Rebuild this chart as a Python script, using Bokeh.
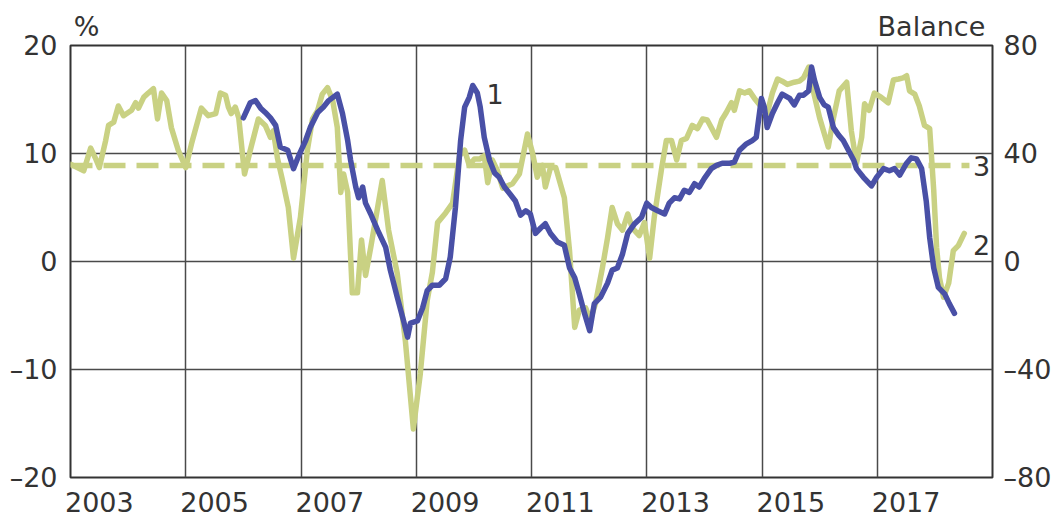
from bokeh.plotting import figure
from bokeh.models import Range1d, LinearAxis, FixedTicker, CustomJSTickFormatter
from bokeh.embed import file_html
from bokeh.resources import INLINE
from bokeh.core.properties import value

# ---------------- data ----------------
# Series 2: balance (right axis)
bal_years = [2003.00, 2003.23, 2003.35, 2003.43, 2003.50, 2003.61, 2003.66, 2003.75, 2003.83, 2003.92,
             2004.06, 2004.13, 2004.18, 2004.27, 2004.35, 2004.44, 2004.51, 2004.58, 2004.67, 2004.75,
             2004.87, 2005.00, 2005.10, 2005.27, 2005.39, 2005.52, 2005.60, 2005.69, 2005.74, 2005.79,
             2005.86, 2005.92, 2006.02, 2006.12, 2006.26, 2006.38, 2006.47, 2006.52, 2006.59, 2006.68,
             2006.78, 2006.87, 2006.99, 2007.11, 2007.20, 2007.29, 2007.37, 2007.46, 2007.55, 2007.63,
             2007.69, 2007.74, 2007.81, 2007.89, 2007.98, 2008.05, 2008.12, 2008.21, 2008.41, 2008.52,
             2008.67, 2008.81, 2008.95, 2009.07, 2009.19, 2009.28, 2009.37, 2009.51, 2009.63, 2009.75,
             2009.84, 2009.92, 2010.01, 2010.10, 2010.18, 2010.24, 2010.32, 2010.41, 2010.50, 2010.67,
             2010.79, 2010.93, 2011.02, 2011.10, 2011.19, 2011.24, 2011.33, 2011.42, 2011.57, 2011.66,
             2011.75, 2011.83, 2011.94, 2012.02, 2012.11, 2012.23, 2012.32, 2012.40, 2012.49, 2012.58,
             2012.67, 2012.75, 2012.87, 2012.96, 2013.05, 2013.13, 2013.26, 2013.34, 2013.43, 2013.52,
             2013.60, 2013.69, 2013.79, 2013.88, 2013.97, 2014.05, 2014.21, 2014.30, 2014.38, 2014.47,
             2014.52, 2014.61, 2014.70, 2014.78, 2014.87, 2014.99, 2015.08, 2015.18, 2015.27, 2015.35,
             2015.44, 2015.56, 2015.65, 2015.72, 2015.81, 2015.89, 2016.00, 2016.15, 2016.24, 2016.34,
             2016.47, 2016.55, 2016.64, 2016.73, 2016.78, 2016.86, 2016.95, 2017.07, 2017.19, 2017.28,
             2017.37, 2017.45, 2017.51, 2017.56, 2017.65, 2017.73, 2017.82, 2017.91, 2017.98, 2018.03,
             2018.08, 2018.15, 2018.24, 2018.32, 2018.41, 2018.51]
bal_values = [36, 33.6, 42, 38.4, 34.8, 44.8, 50.4, 51.6, 57.6, 54,
              56, 58.8, 56.8, 60.8, 62.4, 64, 52.8, 62.4, 59.6, 49.6,
              41.2, 34.8, 43.6, 56.8, 54, 54.8, 62.4, 61.6, 57.2, 54.8,
              57.2, 53.2, 32.4, 41.2, 52.8, 50.4, 46, 48.4, 38.4, 30,
              20, 1.2, 16.4, 41.2, 52.8, 56, 62, 64.4, 59.6, 49.6,
              25.6, 32.4, 25.6, -11.6, -11.6, 8, -5.2, 5.2, 30, 11.6,
              -4.4, -29.2, -62, -41.6, -14.4, -4, 14.4, 18, 21.6, 39.2,
              41.2, 35.6, 38, 38, 39.2, 29.2, 37.6, 33.6, 27.2, 28.8,
              32.4, 47.2, 40, 31.2, 35.6, 27.6, 34.8, 34.8, 23.6, 4,
              -24.4, -18, -17.2, -21.6, -15.6, -2.4, 8.8, 20, 14, 11.6,
              17.6, 12.4, 9.6, 14.4, 1.2, 16.4, 34.8, 44.8, 44.8, 37.6,
              44.8, 45.6, 50.4, 49.2, 52.8, 52.4, 46, 52.4, 55.2, 58.8,
              56, 63.2, 62.4, 63.2, 60.4, 57.2, 54, 62.4, 67.6, 66.8,
              65.6, 66.4, 66.8, 68, 72, 63.2, 53.2, 42.4, 53.2, 63.2,
              66.4, 48.4, 36.4, 46, 58.4, 56, 62.4, 60.8, 58.8, 67.2,
              67.6, 68, 68.8, 63.2, 62, 57.6, 50.4, 49.2, 26.4, 5.2,
              -6, -13.2, -8, 4, 6, 10.4]

# Series 1: per cent (left axis)
pct_years = [2006.00, 2006.12, 2006.21, 2006.30, 2006.38, 2006.47, 2006.56, 2006.64, 2006.77, 2006.87,
             2006.96, 2007.08, 2007.16, 2007.29, 2007.39, 2007.48, 2007.63, 2007.72, 2007.81, 2007.86,
             2007.95, 2008.00, 2008.07, 2008.12, 2008.21, 2008.33, 2008.47, 2008.55, 2008.67, 2008.78,
             2008.85, 2008.90, 2009.02, 2009.11, 2009.19, 2009.28, 2009.40, 2009.51, 2009.59, 2009.68,
             2009.77, 2009.84, 2009.92, 2009.98, 2010.06, 2010.11, 2010.18, 2010.27, 2010.36, 2010.44,
             2010.53, 2010.62, 2010.72, 2010.81, 2010.90, 2010.98, 2011.07, 2011.16, 2011.24, 2011.33,
             2011.45, 2011.57, 2011.66, 2011.75, 2011.83, 2011.92, 2012.01, 2012.09, 2012.20, 2012.32,
             2012.40, 2012.49, 2012.58, 2012.67, 2012.79, 2012.91, 2013.00, 2013.08, 2013.19, 2013.31,
             2013.39, 2013.48, 2013.57, 2013.65, 2013.74, 2013.83, 2013.91, 2014.00, 2014.12, 2014.21,
             2014.31, 2014.44, 2014.52, 2014.61, 2014.73, 2014.83, 2014.90, 2014.99, 2015.04, 2015.09,
             2015.18, 2015.27, 2015.35, 2015.48, 2015.56, 2015.65, 2015.72, 2015.81, 2015.86, 2015.91,
             2016.00, 2016.08, 2016.15, 2016.24, 2016.33, 2016.41, 2016.50, 2016.59, 2016.64, 2016.76,
             2016.90, 2016.99, 2017.11, 2017.21, 2017.30, 2017.39, 2017.51, 2017.59, 2017.68, 2017.77,
             2017.85, 2017.91, 2017.98, 2018.06, 2018.17, 2018.25, 2018.34]
pct_values = [13.3, 14.7, 14.9, 14.2, 13.8, 13.3, 12.6, 10.6, 10.3, 8.6,
              9.8, 11.2, 12.4, 13.8, 14.3, 14.9, 15.5, 13.7, 11.2, 9.4,
              6.9, 5.9, 6.9, 5.4, 4.4, 2.9, 1.3, -0.8, -3.3, -5.5,
              -7.0, -5.7, -5.5, -4.3, -2.7, -2.2, -2.2, -1.6, 0.4, 5.0,
              11.2, 14.3, 15.2, 16.3, 15.6, 14.3, 11.5, 9.4, 8.2, 7.8,
              6.9, 6.3, 5.6, 4.3, 4.7, 4.4, 2.6, 3.1, 3.5, 2.6,
              1.8, 1.5, -0.6, -1.5, -3.0, -4.8, -6.4, -3.9, -3.3, -2.0,
              -0.8, -0.6, 0.7, 2.6, 3.5, 4.1, 5.4, 5.0, 4.7, 4.4,
              5.4, 5.9, 5.8, 6.6, 6.4, 7.2, 6.9, 7.7, 8.6, 8.9,
              9.1, 9.1, 9.2, 10.3, 10.9, 11.2, 11.5, 15.1, 14.3, 12.4,
              13.7, 14.7, 15.5, 15.1, 14.5, 15.4, 15.4, 15.8, 18.0, 16.8,
              15.2, 14.5, 14.3, 12.4, 11.7, 11.2, 10.3, 9.4, 8.6, 7.8,
              7.0, 7.8, 8.6, 8.4, 8.6, 8.0, 9.1, 9.6, 9.5, 8.6,
              5.6, 2.2, -0.6, -2.4, -3.0, -3.9, -4.8]

# Series 3: historical average of the balance (right axis)
avg_years = [2003.0, 2018.6]
avg_value = 35.6

# ticks and labels
x_label_years = [2003, 2005, 2007, 2009, 2011, 2013, 2015, 2017]
x_grid_years = [2005, 2007, 2009, 2011, 2013, 2015, 2017]
left_ticks = [-20, -10, 0, 10, 20]
right_ticks = [-80, -40, 0, 40, 80]
unit_texts = ["%", "Balance"]
unit_pos = [2003.28, 2017.94]
series_names = ["1", "2", "3"]
series_name_x = [2010.37, 2018.81, 2018.81]
series_name_y = [15.5, 1.5, 8.8]

# ---------------- style ----------------
BLUE = "#4950a6"
GREEN = "#c9d183"
TEXT = "#333333"
FONT = "DejaVu Sans"
FS = "27px"

p = figure(frame_width=922, frame_height=432,
           x_range=Range1d(2003, 2019), y_range=Range1d(-20, 20),
           output_backend="svg", toolbar_location=None,
           min_border_left=70, min_border_right=66, min_border_top=45, min_border_bottom=46)
p.extra_y_ranges = {"bal": Range1d(-80, 80)}
p.background_fill_color = "white"
p.border_fill_color = "white"
p.outline_line_color = "#333333"
p.outline_line_width = 2

neg_fmt = "return tick < 0 ? '\u2013' + Math.abs(tick) : String(tick);"

# x axis
xa = p.xaxis[0]
xa.ticker = FixedTicker(ticks=[y + 0.5 for y in x_label_years])
xa.formatter = CustomJSTickFormatter(code="return String(Math.floor(tick));")
# y left
ya = p.yaxis[0]
ya.ticker = FixedTicker(ticks=left_ticks)
ya.formatter = CustomJSTickFormatter(code=neg_fmt)
# y right
yr = LinearAxis(y_range_name="bal", ticker=FixedTicker(ticks=right_ticks),
                formatter=CustomJSTickFormatter(code=neg_fmt))
p.add_layout(yr, "right")
# unit captions above the frame, as labels of a bare top axis
ta = LinearAxis(ticker=FixedTicker(ticks=unit_pos),
                major_label_overrides={unit_pos[0]: unit_texts[0], unit_pos[1]: unit_texts[1]})
p.add_layout(ta, "above")

for ax, standoff in ((xa, 14), (ya, 13), (yr, 11), (ta, 4)):
    ax.axis_line_color = None
    ax.major_tick_line_color = None
    ax.minor_tick_line_color = None
    ax.major_tick_out = 0
    ax.major_tick_in = 0
    ax.major_label_standoff = standoff
    ax.major_label_text_font = FONT
    ax.major_label_text_font_size = FS
    ax.major_label_text_color = TEXT

p.xgrid.ticker = FixedTicker(ticks=x_grid_years)
p.ygrid.ticker = FixedTicker(ticks=[-10, 0, 10])
for g in (p.xgrid[0], p.ygrid[0]):
    g.grid_line_color = "#4a4a4a"
    g.grid_line_width = 1.5

# lines
p.line(avg_years, [avg_value, avg_value], y_range_name="bal", line_color=GREEN,
       line_width=5.5, line_dash="22 11")
p.line(bal_years, bal_values, y_range_name="bal", line_color=GREEN, line_width=5.5,
       line_join="round", line_cap="round")
p.line(pct_years, pct_values, line_color=BLUE, line_width=5.5, line_join="round", line_cap="round")

# series numbers
p.text(x=series_name_x, y=series_name_y, text=series_names, text_font=value(FONT),
       text_font_size=FS, text_color=TEXT, text_align="center", text_baseline="middle")

open("out.html", "w").write(file_html(p, INLINE))
